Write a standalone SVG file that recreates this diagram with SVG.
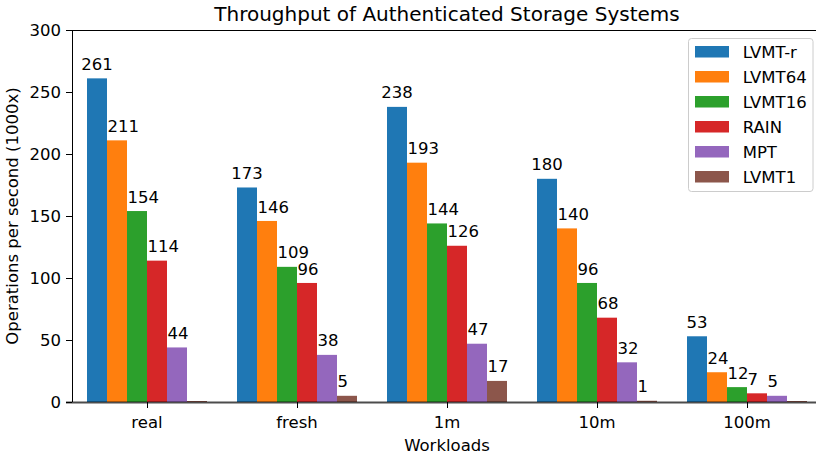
<svg xmlns="http://www.w3.org/2000/svg" width="816" height="460" viewBox="0 0 816 460">
<style>
text{font-family:"DejaVu Sans",sans-serif;fill:#000}
.t{font-size:20px}
.l{font-size:16.5px}
.v{font-size:16.5px}
.m{text-anchor:middle}
.e{text-anchor:end}
.ax{stroke:#000;stroke-width:1;fill:none}
.c0{fill:#1f77b4}.c1{fill:#ff7f0e}.c2{fill:#2ca02c}.c3{fill:#d62728}.c4{fill:#9467bd}.c5{fill:#8c564b}
</style>
<rect width="816" height="460" fill="#fff"/>
<text class="t m" x="447" y="21">Throughput of Authenticated Storage Systems</text>

<g id="axes">
<path class="ax" d="M72.5 30V402M72 30.5H816"/>
<path class="ax" d="M66 402.5H72M66 340.5H72M66 278.5H72M66 216.5H72M66 154.5H72M66 92.5H72M66 30.5H72"/>
<path class="ax" d="M147.5 402V408M297.5 402V408M447.5 402V408M597.5 402V408M747.5 402V408"/>
<g class="l e">
<text x="61" y="408">0</text>
<text x="61" y="346">50</text>
<text x="61" y="284">100</text>
<text x="61" y="222">150</text>
<text x="61" y="160">200</text>
<text x="61" y="98">250</text>
<text x="61" y="36">300</text>
</g>
<g class="l m">
<text x="147" y="428">real</text>
<text x="297" y="428">fresh</text>
<text x="447" y="428">1m</text>
<text x="597" y="428">10m</text>
<text x="747" y="428">100m</text>
<text x="447" y="451">Workloads</text>
</g>
<text class="l m" transform="translate(18.3 216) rotate(-90)">Operations per second (1000x)</text>
</g>

<g id="group-real">
<rect class="c0" x="87" y="78.36" width="20" height="323.64"/>
<rect class="c1" x="107" y="140.36" width="20" height="261.64"/>
<rect class="c2" x="127" y="211.04" width="20" height="190.96"/>
<rect class="c3" x="147" y="260.64" width="20" height="141.36"/>
<rect class="c4" x="167" y="347.44" width="20" height="54.56"/>
<rect class="c5" x="187" y="401" width="20" height="1"/>
<text class="v m" x="97" y="70">261</text>
<text class="v" x="107.5" y="132">211</text>
<text class="v" x="127.5" y="202.5">154</text>
<text class="v" x="147.5" y="252">114</text>
<text class="v" x="167.5" y="339">44</text>
</g>

<g id="group-fresh">
<rect class="c0" x="237" y="187.48" width="20" height="214.52"/>
<rect class="c1" x="257" y="220.96" width="20" height="181.04"/>
<rect class="c2" x="277" y="266.84" width="20" height="135.16"/>
<rect class="c3" x="297" y="282.96" width="20" height="119.04"/>
<rect class="c4" x="317" y="354.88" width="20" height="47.12"/>
<rect class="c5" x="337" y="395.8" width="20" height="6.2"/>
<text class="v m" x="247" y="179">173</text>
<text class="v" x="257.5" y="212.5">146</text>
<text class="v" x="277.5" y="258.3">109</text>
<text class="v" x="297.5" y="274.5">96</text>
<text class="v" x="317.5" y="346.4">38</text>
<text class="v" x="337.5" y="387.3">5</text>
</g>

<g id="group-1m">
<rect class="c0" x="387" y="106.88" width="20" height="295.12"/>
<rect class="c1" x="407" y="162.68" width="20" height="239.32"/>
<rect class="c2" x="427" y="223.44" width="20" height="178.56"/>
<rect class="c3" x="447" y="245.76" width="20" height="156.24"/>
<rect class="c4" x="467" y="343.72" width="20" height="58.28"/>
<rect class="c5" x="487" y="380.92" width="20" height="21.08"/>
<text class="v m" x="397" y="98.2">238</text>
<text class="v" x="407.5" y="154.2">193</text>
<text class="v" x="427.5" y="215">144</text>
<text class="v" x="447.5" y="237.3">126</text>
<text class="v" x="467.5" y="335.2">47</text>
<text class="v" x="487.5" y="372.4">17</text>
</g>

<g id="group-10m">
<rect class="c0" x="537" y="178.8" width="20" height="223.2"/>
<rect class="c1" x="557" y="228.4" width="20" height="173.6"/>
<rect class="c2" x="577" y="282.96" width="20" height="119.04"/>
<rect class="c3" x="597" y="317.68" width="20" height="84.32"/>
<rect class="c4" x="617" y="362.32" width="20" height="39.68"/>
<rect class="c5" x="637" y="400.76" width="20" height="1.24"/>
<text class="v m" x="547" y="170.3">180</text>
<text class="v" x="557.5" y="219.9">140</text>
<text class="v" x="577.5" y="274.5">96</text>
<text class="v" x="597.5" y="309.2">68</text>
<text class="v" x="617.5" y="353.8">32</text>
<text class="v" x="637.5" y="392.3">1</text>
</g>

<g id="group-100m">
<rect class="c0" x="687" y="336.28" width="20" height="65.72"/>
<rect class="c1" x="707" y="372.24" width="20" height="29.76"/>
<rect class="c2" x="727" y="387.12" width="20" height="14.88"/>
<rect class="c3" x="747" y="393.32" width="20" height="8.68"/>
<rect class="c4" x="767" y="395.8" width="20" height="6.2"/>
<rect class="c5" x="787" y="401" width="20" height="1"/>
<text class="v m" x="697" y="327.8">53</text>
<text class="v" x="707.5" y="363.7">24</text>
<text class="v" x="727.5" y="378.6">12</text>
<text class="v" x="747.5" y="384.8">7</text>
<text class="v" x="767.5" y="387.3">5</text>
</g>

<g id="baseline">
<path d="M66 402.5H816" stroke="#000" stroke-opacity="0.7" stroke-width="2"/>
</g>

<g id="legend">
<rect x="688.5" y="38.5" width="124.5" height="153" rx="3" fill="#fff" fill-opacity="0.8" stroke="#ccc" stroke-width="1"/>
<rect class="c0" x="695" y="46" width="34" height="11.5"/>
<rect class="c1" x="695" y="71" width="34" height="11.5"/>
<rect class="c2" x="695" y="96" width="34" height="11.5"/>
<rect class="c3" x="695" y="121" width="34" height="11.5"/>
<rect class="c4" x="695" y="146" width="34" height="11.5"/>
<rect class="c5" x="695" y="171" width="34" height="11.5"/>
<g class="l">
<text x="742.7" y="57.8">LVMT-r</text>
<text x="742.7" y="82.8">LVMT64</text>
<text x="742.7" y="107.8">LVMT16</text>
<text x="742.7" y="132.8">RAIN</text>
<text x="742.7" y="157.8">MPT</text>
<text x="742.7" y="182.8">LVMT1</text>
</g>
</g>
</svg>
